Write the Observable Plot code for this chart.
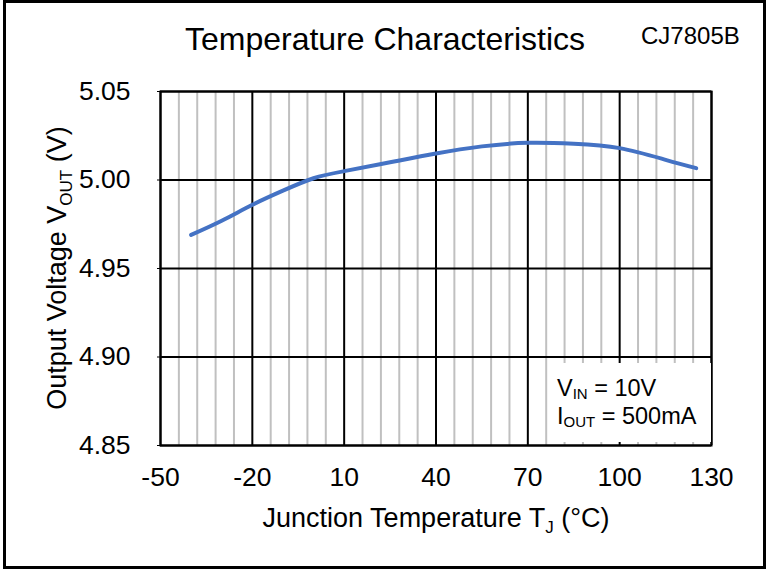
<!DOCTYPE html>
<html>
<head>
<meta charset="utf-8">
<script src="https://cdn.jsdelivr.net/npm/d3@7"></script>
<script src="https://cdn.jsdelivr.net/npm/@observablehq/plot@0.6"></script>
<style>
  html, body { margin: 0; padding: 0; background: #fff; }
  body { width: 768px; height: 569px; position: relative; overflow: hidden; font-family: "Liberation Sans", Arial, sans-serif; }
  #frame { position: absolute; left: 3px; top: 0px; width: 757px; height: 563px; border: 3px solid #000; pointer-events: none; }
  #title { position: absolute; left: 0; width: 770px; top: 21px; text-align: center; font-size: 32px; color: #000; }
  #model { position: absolute; left: 641px; top: 22px; font-size: 24px; color: #000; }
  #legend { position: absolute; left: 548px; top: 363px; width: 163px; height: 79px; background: #fff; font-size: 23.5px; color: #000; }
  #legend div { position: absolute; left: 9px; white-space: nowrap; }
  #legend sub { font-size: 15px; vertical-align: baseline; position: relative; top: 3px; }
  #chart { position: absolute; left: 0; top: 0; }
</style>
</head>
<body>
<div id="chart"></div>
<div id="title">Temperature Characteristics</div>
<div id="model">CJ7805B</div>
<div id="legend">
  <div style="top:12px">V<sub>IN</sub> = 10V</div>
  <div style="top:40px">I<sub>OUT</sub> = 500mA</div>
</div>
<div id="frame"></div>
<script>
// Data
const temps = [-40, -30, -20, -10, 0, 10, 25, 40, 55, 70, 85, 100, 115, 125];
const vout  = [4.969, 4.977, 4.986, 4.994, 5.001, 5.005, 5.010, 5.015, 5.019, 5.021, 5.0205, 5.018, 5.0114, 5.0067];

// Axis ticks
const xTicks = [-50, -20, 10, 40, 70, 100, 130];
const yTicks = [4.85, 4.90, 4.95, 5.00, 5.05];
const xMinor = d3.range(-50, 131, 6).filter(v => !xTicks.includes(v));

const data = temps.map((t, i) => ({t, v: vout[i]}));

const chart = Plot.plot({
  width: 768,
  height: 569,
  marginLeft: 160,
  marginRight: 57,
  marginTop: 91,
  marginBottom: 124,
  style: {fontFamily: "'Liberation Sans', Arial, sans-serif", fontSize: "26px", color: "#000", background: "transparent"},
  x: {domain: [-50, 130], label: null},
  y: {domain: [4.85, 5.05], label: null},
  marks: [
    Plot.ruleX(xMinor, {stroke: "#c0c0c0", strokeWidth: 2}),
    Plot.ruleX(xTicks, {stroke: "#000", strokeWidth: 2}),
    Plot.ruleY(yTicks, {stroke: "#000", strokeWidth: 2}),
    Plot.frame({stroke: "#000", strokeWidth: 2}),
    Plot.line(data, {x: "t", y: "v", curve: "natural", stroke: "#4472C4", strokeWidth: 4}),
    Plot.axisX(xTicks, {tickSize: 0, tickPadding: 22, fontSize: 26.5, tickFormat: d => String(d)}),
    Plot.axisY(yTicks, {tickSize: 3, tickPadding: 27, fontSize: 26.5, tickFormat: d3.format(".2f")})
  ]
});
document.getElementById("chart").appendChild(chart);

const svg = d3.select(chart);
// X axis label with subscript
const xl = svg.append("text")
  .attr("x", 436).attr("y", 527)
  .attr("text-anchor", "middle")
  .attr("font-size", 27)
  .attr("fill", "#000");
xl.append("tspan").text("Junction Temperature T");
xl.append("tspan").attr("font-size", 17).attr("dy", 6).text("J");
xl.append("tspan").attr("dy", -6).text(" (°C)");

// Y axis label with subscript
const yl = svg.append("text")
  .attr("transform", "translate(66,268) rotate(-90)")
  .attr("text-anchor", "middle")
  .attr("font-size", 27)
  .attr("fill", "#000");
yl.append("tspan").text("Output Voltage V");
yl.append("tspan").attr("font-size", 17).attr("dy", 6).text("OUT");
yl.append("tspan").attr("dy", -6).text(" (V)");
</script>
</body>
</html>
